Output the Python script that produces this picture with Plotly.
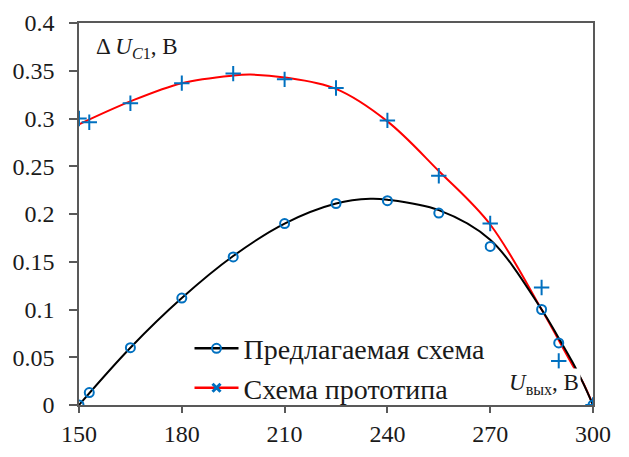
import plotly.graph_objects as go

# Measured points: proposed circuit (circles) and prototype circuit (crosses)
u_out = [150, 153, 165, 180, 195, 210, 225, 240, 255, 270, 285, 290, 300]
du_proposed = [0.0, 0.013, 0.060, 0.112, 0.155, 0.190, 0.211, 0.214, 0.201, 0.166, 0.100, 0.065, 0.0]
du_prototype = [0.300, 0.296, 0.316, 0.337, 0.347, 0.341, 0.332, 0.298, 0.240, 0.190, 0.123, 0.046, 0.0]

# Smoothed trend curves
trend_x_proposed = [150, 165, 180, 195, 210, 225, 235, 240, 255, 270, 285, 290, 294, 297, 300]
trend_proposed = [0.0, 0.060, 0.112, 0.156, 0.190, 0.211, 0.216, 0.215, 0.204, 0.173, 0.100, 0.070, 0.045, 0.024, 0.0]
trend_x_prototype = [150, 165, 180, 195, 200, 210, 225, 240, 255, 270, 285, 294, 297, 300]
trend_prototype = [0.294, 0.318, 0.337, 0.345, 0.346, 0.343, 0.331, 0.297, 0.245, 0.189, 0.100, 0.042, 0.024, 0.0]

x_ticks = [150, 180, 210, 240, 270, 300]
y_ticks = [0, 0.05, 0.1, 0.15, 0.2, 0.25, 0.3, 0.35, 0.4]

BLUE = "#0070C0"
FONT = "Liberation Serif"
TEXT = "#1a1a1a"

fig = go.Figure()

fig.add_trace(go.Scatter(x=trend_x_prototype, y=trend_prototype, mode="lines",
                         line=dict(color="#FF0000", width=2, shape="spline"),
                         showlegend=False, hoverinfo="skip"))
fig.add_trace(go.Scatter(x=trend_x_proposed, y=trend_proposed, mode="lines",
                         line=dict(color="#000000", width=2, shape="spline"),
                         showlegend=False, hoverinfo="skip"))
fig.add_trace(go.Scatter(x=u_out, y=du_prototype, mode="markers",
                         marker=dict(symbol="cross-thin", size=11, line=dict(color=BLUE, width=2)),
                         showlegend=False))
fig.add_trace(go.Scatter(x=u_out, y=du_proposed, mode="markers",
                         marker=dict(symbol="circle-open", size=9, color=BLUE, line=dict(width=2)),
                         showlegend=False))

# Legend entries
fig.add_trace(go.Scatter(x=[None], y=[None], mode="lines+markers", name="Предлагаемая схема",
                         line=dict(color="#000000", width=2.5),
                         marker=dict(symbol="circle-open", size=9, color=BLUE, line=dict(width=2))))
fig.add_trace(go.Scatter(x=[None], y=[None], mode="lines+markers", name="Схема прототипа",
                         line=dict(color="#FF0000", width=2.5),
                         marker=dict(symbol="x-thin", size=8, line=dict(color=BLUE, width=3))))

axis_common = dict(showgrid=False, zeroline=False, showline=True, linecolor="#595959",
                   linewidth=1.5, mirror=True, ticks="outside", tickwidth=1.5,
                   tickcolor="#595959", tickfont=dict(family=FONT, size=24, color=TEXT))

fig.update_xaxes(range=[150, 300], tickvals=x_ticks, ticktext=[str(v) for v in x_ticks],
                 ticklen=6, **axis_common)
fig.update_yaxes(range=[0, 0.4], tickvals=y_ticks, ticktext=[f"{v:g}" for v in y_ticks],
                 ticklen=8, ticklabelstandoff=10, **axis_common)

fig.add_annotation(xref="paper", yref="paper", x=0.029, y=0.934, xanchor="left", yanchor="middle",
                   text="Δ <i>U</i><sub><i>C</i>1</sub>, В", showarrow=False,
                   font=dict(family=FONT, size=23, color=TEXT))
fig.add_annotation(xref="paper", yref="paper", x=0.977, y=0.055, xanchor="right", yanchor="middle",
                   text="<i>U</i><sub>вых</sub>, В", showarrow=False, bgcolor="white",
                   font=dict(family=FONT, size=23, color=TEXT))

fig.update_layout(
    width=629, height=457,
    margin=dict(l=79, r=36, t=23, b=52, autoexpand=False),
    paper_bgcolor="white", plot_bgcolor="white",
    font=dict(family=FONT, color=TEXT),
    legend=dict(x=0.215, y=-0.02, xanchor="left", yanchor="bottom", bgcolor="rgba(0,0,0,0)",
                font=dict(family=FONT, size=28, color=TEXT), itemwidth=44),
)

fig.write_html("out.html")
